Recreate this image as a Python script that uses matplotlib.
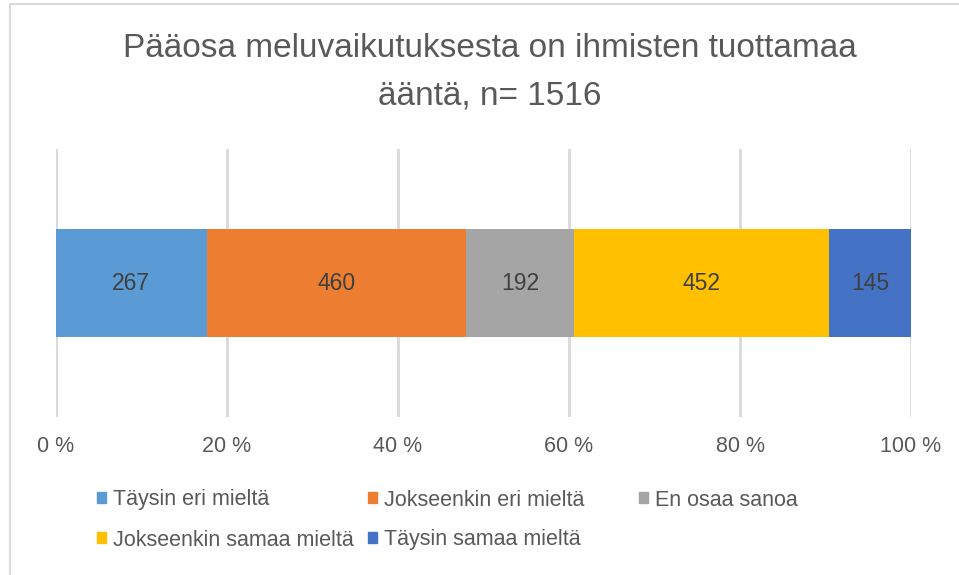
import matplotlib
matplotlib.use("Agg")
import matplotlib.pyplot as plt
from matplotlib.patches import Patch, Rectangle
import numpy as np

plt.rcParams['font.family'] = ['Liberation Sans', 'DejaVu Sans']

title = "Pääosa meluvaikutuksesta on ihmisten tuottamaa\nääntä, n= 1516"
categories = ["Täysin eri mieltä", "Jokseenkin eri mieltä", "En osaa sanoa",
              "Jokseenkin samaa mieltä", "Täysin samaa mieltä"]
counts = [267, 460, 192, 452, 145]
colors = ["#5B9BD5", "#ED7D31", "#A5A5A5", "#FFC000", "#4472C4"]
xticks = [0, 20, 40, 60, 80, 100]
xtick_labels = ["0 %", "20 %", "40 %", "60 %", "80 %", "100 %"]

W, H = 959, 575
fig = plt.figure(figsize=(W / 100, H / 100), dpi=100)
ax = fig.add_axes([56 / W, 1 - 417 / H, 855 / W, 268 / H])

# 100 % stacked bar
pct = np.array(counts) / sum(counts) * 100
left = 0
for c, p, n, col in zip(categories, pct, counts, colors):
    bars = ax.barh(0, p, left=left, height=0.4, color=col, label=c, zorder=3)
    ax.bar_label(bars, labels=[str(n)], label_type='center', fontsize=16.5, color='#404040')
    left += p

ax.set_xlim(0, 100)
ax.set_ylim(-0.5, 0.5)
ax.set_xticks(xticks)
ax.set_xticklabels(xtick_labels, fontsize=15.5, color='#595959')
ax.tick_params(axis='x', length=0, pad=14)
ax.set_yticks([])
ax.grid(axis='x', color='#D9D9D9', linewidth=2, zorder=0)
for s in ax.spines.values():
    s.set_visible(False)

fig.text(489.5 / W, 1 - 33 / H, title, ha='center', va='top', fontsize=24,
         color='#595959', linespacing=1.7)

# legend laid out on an even grid like the original
for i, (c, col) in enumerate(zip(categories, colors)):
    x = (97 + (i % 3) * 271) / W
    y = 1 - (500 + (i // 3) * 40) / H
    fig.legend(handles=[Patch(color=col)], labels=[c], loc='center left',
               bbox_to_anchor=(x, y), frameon=False, fontsize=15.5,
               labelcolor='#595959', handlelength=0.4, handleheight=0.4,
               handletextpad=0.35, borderpad=0, borderaxespad=0)

# chart border (only top and left visible in the crop)
fig.patches.append(Rectangle((9.5 / W, -0.1), 1.2, 1.1 - 4.5 / H, transform=fig.transFigure,
                             fill=False, edgecolor='#D9D9D9', linewidth=1.5))

fig.savefig("out.png", dpi=100)
